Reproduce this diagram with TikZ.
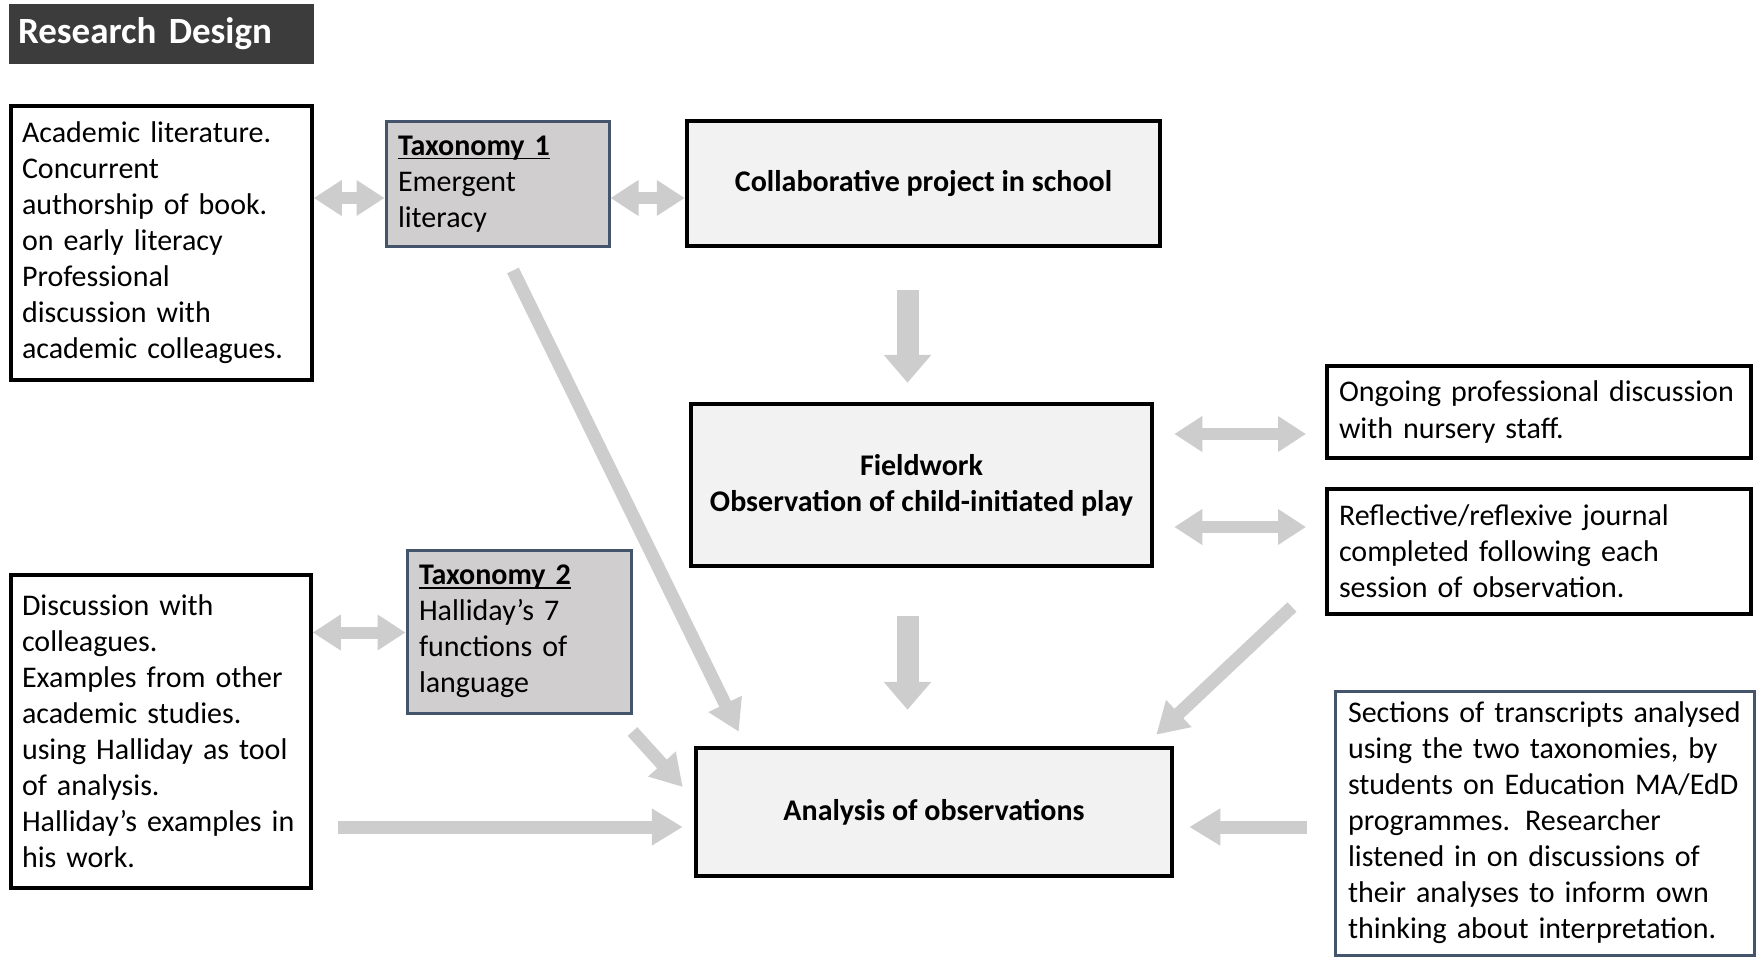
\documentclass[tikz,border=0pt]{standalone}
\usepackage{fontspec}
\setmainfont{Carlito}
\usetikzlibrary{arrows.meta}
\usetikzlibrary{calc}
\definecolor{arrowgray}{RGB}{205,205,205}
\definecolor{taxfill}{RGB}{208,206,206}
\definecolor{slate}{RGB}{68,84,106}
\definecolor{stagefill}{RGB}{242,242,242}
\definecolor{titlefill}{RGB}{60,60,60}
\newcommand{\boxfont}{\fontsize{30}{36}\selectfont}
\newcommand{\taxline}[1]{\setbox0\hbox{\textbf{#1}}\rlap{\rule[-4pt]{\wd0}{1.6pt}}\box0}
\tikzset{inbox/.style = {draw, line width=3.5pt, fill=white, align=left,
                         inner xsep=11pt, font=\boxfont}}
\tikzset{taxbox/.style = {draw=slate, line width=3pt, fill=taxfill, align=left,
                          inner xsep=12pt, font=\boxfont}}
\tikzset{stagebox/.style = {draw, line width=4.5pt, fill=stagefill, align=center,
                            font=\boxfont\bfseries}}
\tikzset{fatarrow/.style = {draw=arrowgray, line width=22pt,
                            -{Triangle[width=46pt, length=28pt]}}}
\tikzset{thinarrow/.style = {draw=arrowgray, line width=13pt,
                             -{Triangle[width=35pt, length=31pt]}}}
\tikzset{twoway/.style = {draw=arrowgray, line width=12pt,
                          {Triangle[width=34pt, length=28pt]}-{Triangle[width=34pt, length=28pt]}}}

\begin{document}
\begin{tikzpicture}[x=1pt, y=-1pt]
      \useasboundingbox (0, 0) rectangle (1756, 960);

      \node [fill=titlefill, minimum width=305pt, minimum height=60pt, text width=287pt,
             inner xsep=9pt, align=left, text=white,
             font=\fontsize{37}{42}\selectfont\bfseries] (title) at (161.5, 34) {Research Design};

      \node [inbox, minimum width=301pt, minimum height=274pt, text width=279pt] (lit) at (161.5, 243)
            {Academic literature.\\ Concurrent\\ authorship of book.\\ on early literacy\\
             Professional\\ discussion with\\ academic colleagues.};
      \node [taxbox, minimum width=223pt, minimum height=124pt, text width=199pt] (tax1) at (497.5, 184)
            {\taxline{Taxonomy 1}\\ Emergent\\ literacy};
      \node [stagebox, minimum width=473pt, minimum height=125pt] (collab) at (923.5, 183.5)
            {Collaborative project in school};
      \node [stagebox, minimum width=461pt, minimum height=162pt] (field) at (921.5, 485)
            {Fieldwork\\ Observation of child-initiated play};
      \node [stagebox, minimum width=476pt, minimum height=128pt] (analysis) at (934, 812)
            {Analysis of observations};

      \node [inbox, line width=4pt, minimum width=424pt, minimum height=92pt, text width=400pt] (ongoing) at (1539, 412)
            {Ongoing professional discussion\\ with nursery staff.};
      \node [inbox, line width=4pt, minimum width=424pt, minimum height=125pt, text width=400pt] (reflect) at (1539, 551.5)
            {Reflective/reflexive journal\\ completed following each\\ session of observation.};
      \node [inbox, draw=slate, line width=3pt, minimum width=419pt, minimum height=264pt, text width=393pt,
             inner ysep=4pt] (sections) at (1544.5, 823)
            {Sections of transcripts analysed\\ using the two taxonomies, by\\ students on Education MA/EdD\\
             programmes. Researcher\\ listened in on discussions of\\ their analyses to inform own\\
             thinking about interpretation.};

      \node [taxbox, minimum width=224pt, minimum height=163pt, text width=200pt] (tax2) at (519, 631.5)
            {\taxline{Taxonomy 2}\\ Halliday’s 7\\ functions of\\ language};
      \node [inbox, minimum width=300pt, minimum height=313pt, text width=278pt] (disc) at (161, 731.5)
            {Discussion with\\ colleagues.\\ Examples from other\\ academic studies.\\
             using Halliday as tool\\ of analysis.\\ Halliday’s examples in\\ his work.};

      % two-way links
      \draw [twoway] ($(tax1.west -| lit.east)+(0, 14)$) -- ($(tax1.west)+(0, 14)$);
      \draw [twoway] ($(tax1.east)+(0, 14)$) -- ($(tax1.east -| collab.west)+(0, 14)$);
      \draw [twoway, shorten <=20pt, shorten >=19pt] ($(field.east)+(0, -51)$) -- ($(field.east -| ongoing.west)+(0, -51)$);
      \draw [twoway, shorten <=20pt, shorten >=19pt] ($(field.east)+(0, 42)$) -- ($(field.east -| reflect.west)+(0, 42)$);
      \draw [twoway] ($(disc.east |- tax2.west)+(0, 1)$) -- ($(tax2.west)+(0, 1)$);

      % main flow
      \draw [fatarrow, shorten <=42pt, shorten >=19pt] ($(field.north |- collab.south)+(-14, 0)$) -- ($(field.north)+(-14, 0)$);
      \draw [fatarrow, shorten <=48pt, shorten >=36pt] ($(field.south)+(-14, 0)$) -- ($(field.south |- analysis.north)+(-14, 0)$);

      % into the analysis
      \draw [thinarrow] ($(tax1.south)+(15.5, 23)$) -- ($(analysis.north west)+(45, -14)$);
      \draw [thinarrow] ($(tax2.south east)+(0, 17)$) -- ($(analysis.west)+(-11, -25)$);
      \draw [thinarrow] ($(analysis.west -| disc.east)+(25, 15)$) -- ($(analysis.west)+(-11, 15)$);
      \draw [thinarrow] ($(reflect.south west)+(-33, -9)$) -- ($(analysis.north east)+(-18, -11)$);
      \draw [thinarrow] ($(sections.west)+(-27, 4)$) -- ($(sections.west -| analysis.east)+(15, 4)$);
    \end{tikzpicture}
\end{document}
